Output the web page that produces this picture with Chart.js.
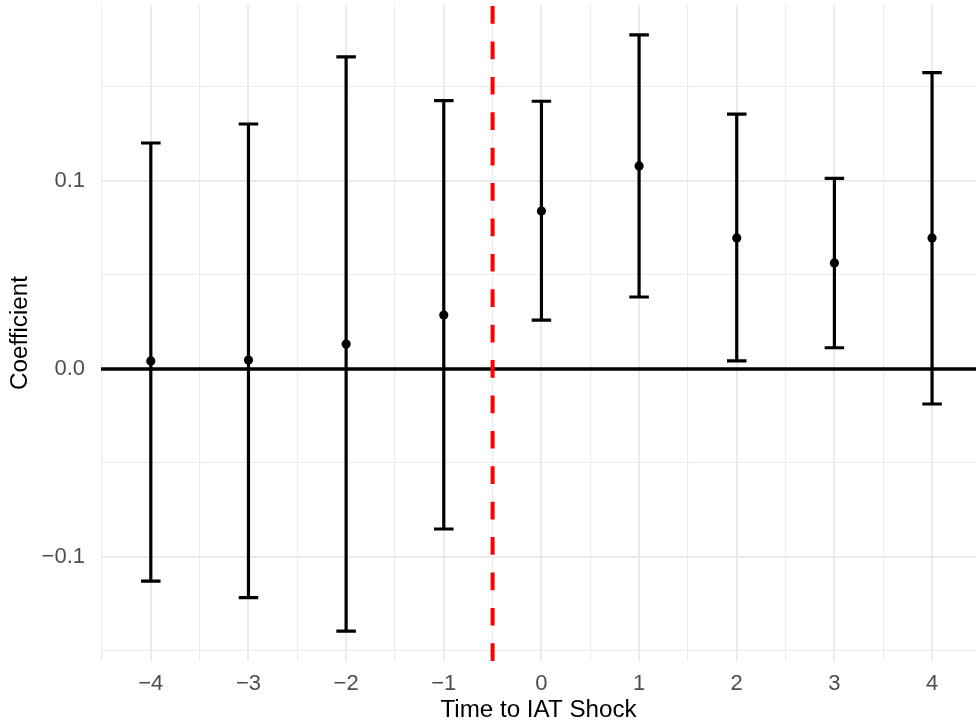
<!DOCTYPE html>
<html>
<head>
<meta charset="utf-8">
<title>Event study: Time to IAT Shock</title>
<script src="https://cdn.jsdelivr.net/npm/chart.js@4.4.1/dist/chart.umd.min.js"></script>
<style>
  html, body { margin: 0; padding: 0; background: #ffffff; }
  #wrap { width: 976px; height: 727px; }
</style>
</head>
<body>
<div id="wrap"><canvas id="coef-chart" width="976" height="727"></canvas></div>
<script>
// event time relative to the shock, point estimates and 95% bounds
const periods = [-4, -3, -2, -1, 0, 1, 2, 3, 4];
const coefs = [0.0043, 0.0048, 0.0133, 0.0287, 0.084, 0.108, 0.0697, 0.0564, 0.0697];
const ciLow = [-0.1128, -0.1216, -0.1394, -0.0851, 0.026, 0.0383, 0.0043, 0.0113, -0.0186];
const ciHigh = [0.1202, 0.1303, 0.166, 0.1427, 0.1424, 0.1777, 0.1356, 0.1014, 0.1576];

// axis breaks (major ones get labels)
const xBreaks = [-4, -3, -2, -1, 0, 1, 2, 3, 4];
const xMinorBreaks = [-4.5, -3.5, -2.5, -1.5, -0.5, 0.5, 1.5, 2.5, 3.5];
const yBreaks = [-0.1, 0, 0.1];
const yMinorBreaks = [-0.15, -0.05, 0.05, 0.15];

const shockAt = -0.5;   // red dashed line between -1 and 0
const capWidth = 0.2;

const xMin = -4.51, xMax = 4.45;
const yMin = -0.1553, yMax = 0.1936;

const tickFont = { family: '"Liberation Sans", Arial, sans-serif', size: 22 };
const titleFont = { family: '"Liberation Sans", Arial, sans-serif', size: 24.2 };

function minusSign(txt) {
    return txt.replace('-', '\u2212');
}

// vertical whiskers and caps, broken up with null gaps
let whiskers = [];
let caps = [];
periods.forEach((p, i) => {
    whiskers.push({ x: p, y: ciLow[i] }, { x: p, y: ciHigh[i] }, { x: p, y: null });
    caps.push({ x: p - capWidth / 2, y: ciHigh[i] }, { x: p + capWidth / 2, y: ciHigh[i] }, { x: p, y: null });
    caps.push({ x: p - capWidth / 2, y: ciLow[i] }, { x: p + capWidth / 2, y: ciLow[i] }, { x: p, y: null });
});

const points = periods.map((p, i) => ({ x: p, y: coefs[i] }));

const isMajorX = v => xBreaks.includes(v);
const isMajorY = v => yBreaks.some(b => Math.abs(b - v) < 1e-9);

const ctx = document.getElementById('coef-chart').getContext('2d');
const coefChart = new Chart(ctx, {
    type: 'scatter',
    data: {
        datasets: [
            {
                label: 'estimate',
                data: points,
                backgroundColor: '#000000',
                borderWidth: 0,
                pointRadius: 4.6,
                order: 0
            },
            {
                type: 'line',
                label: 'ci',
                data: whiskers,
                borderColor: '#000000',
                borderWidth: 3.2,
                pointRadius: 0,
                spanGaps: false,
                order: 1
            },
            {
                type: 'line',
                label: 'caps',
                data: caps,
                borderColor: '#000000',
                borderWidth: 3.2,
                pointRadius: 0,
                spanGaps: false,
                order: 1
            },
            {
                type: 'line',
                label: 'shock',
                data: [{ x: shockAt, y: yMin }, { x: shockAt, y: yMax }],
                borderColor: '#ff0000',
                borderWidth: 4,
                borderDash: [17.7, 17.7],
                pointRadius: 0,
                order: 2
            },
            {
                type: 'line',
                label: 'zero',
                data: [{ x: xMin, y: 0 }, { x: xMax, y: 0 }],
                borderColor: '#000000',
                borderWidth: 3.5,
                pointRadius: 0,
                order: 3
            }
        ]
    },
    options: {
        responsive: false,
        animation: false,
        layout: { autoPadding: false, padding: { top: 5, right: 0, bottom: 0, left: 0 } },
        plugins: {
            legend: { display: false },
            tooltip: { enabled: false }
        },
        scales: {
            x: {
                type: 'linear',
                min: xMin,
                max: xMax,
                afterBuildTicks: (scale) => {
                    scale.ticks = xMinorBreaks.concat(xBreaks).sort((a, b) => a - b).map(v => ({ value: v }));
                },
                afterFit: (scale) => {
                    scale.height = 66;
                    scale.paddingLeft = 0;
                    scale.paddingRight = 0;
                },
                border: { display: false },
                grid: {
                    color: '#ebebeb',
                    lineWidth: (c) => (c.tick && isMajorX(c.tick.value) ? 2 : 1.1),
                    drawTicks: false
                },
                ticks: {
                    autoSkip: false,
                    maxRotation: 0,
                    padding: 10,
                    color: '#4d4d4d',
                    font: tickFont,
                    callback: (v) => (isMajorX(v) ? minusSign(String(v)) : '')
                },
                title: {
                    display: true,
                    text: 'Time to IAT Shock',
                    color: '#000000',
                    font: titleFont,
                    padding: { top: 0, bottom: 2 }
                }
            },
            y: {
                type: 'linear',
                min: yMin,
                max: yMax,
                afterBuildTicks: (scale) => {
                    scale.ticks = yMinorBreaks.concat(yBreaks).sort((a, b) => a - b).map(v => ({ value: v }));
                },
                afterFit: (scale) => {
                    scale.width = 101;
                    scale.paddingTop = 0;
                    scale.paddingBottom = 0;
                },
                border: { display: false },
                grid: {
                    color: '#ebebeb',
                    lineWidth: (c) => (c.tick && isMajorY(c.tick.value) ? 2 : 1.1),
                    drawTicks: false
                },
                ticks: {
                    autoSkip: false,
                    padding: 16,
                    color: '#4d4d4d',
                    font: tickFont,
                    callback: (v) => (isMajorY(v) ? minusSign(v.toFixed(1)) : '')
                },
                title: {
                    display: true,
                    text: 'Coefficient',
                    color: '#000000',
                    font: titleFont,
                    padding: { top: 6, bottom: 0 }
                }
            }
        }
    }
});
</script>
</body>
</html>
